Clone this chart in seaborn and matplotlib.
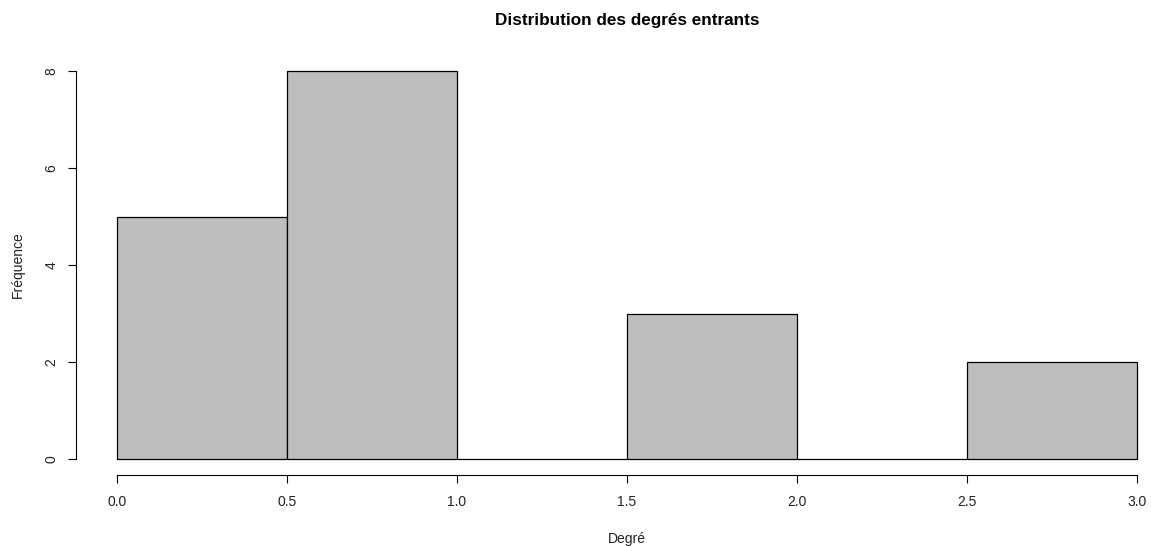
import numpy as np
import pandas as pd
import matplotlib
matplotlib.use("Agg")
import matplotlib.pyplot as plt
import seaborn as sns

# In-degree of each node, grouped by value
degree_values = [0, 1, 2, 3]
degree_counts = [5, 8, 3, 2]
bin_edges = [0.0, 0.5, 1.0, 1.5, 2.0, 2.5, 3.0]
x_ticks = [0.0, 0.5, 1.0, 1.5, 2.0, 2.5, 3.0]
y_ticks = [0, 2, 4, 6, 8]

# R-style right-closed bins (lowest bin closed): nudge integer degrees
# just inside their bin without dropping below the first edge
shifted = np.maximum(np.array(degree_values, dtype=float) - 1e-6, 0.0)
df = pd.DataFrame({"degre": shifted, "n": degree_counts})

sns.set_theme(style="white")
plt.rcParams["font.family"] = ["Liberation Sans", "DejaVu Sans"]

fig = plt.figure(figsize=(11.51, 5.47), dpi=100)
ax = fig.add_axes([0.066, 0.1325, 0.957, 0.766])

sns.histplot(data=df, x="degre", weights="n", bins=bin_edges, ax=ax,
             color="#bebebe", alpha=1.0, edgecolor="black", linewidth=0.9,
             stat="count")

ax.set_xlim(-0.12, 3.12)
ax.set_ylim(-0.32, 8.32)

for s in ["top", "right"]:
    ax.spines[s].set_visible(False)
ax.spines["left"].set_bounds(0, 8)
ax.spines["bottom"].set_bounds(0, 3)
for s in ["left", "bottom"]:
    ax.spines[s].set_color("black")
    ax.spines[s].set_linewidth(0.8)

ax.set_xticks(x_ticks)
ax.set_xticklabels([f"{v:.1f}" for v in x_ticks])
ax.set_yticks(y_ticks)
ax.set_yticklabels([str(v) for v in y_ticks], rotation=90, va="center")
ax.tick_params(axis="both", which="both", direction="out", length=5.5,
               width=0.8, color="black", labelsize=10, labelcolor="#222222",
               left=True, bottom=True)
ax.tick_params(axis="x", pad=9)
ax.tick_params(axis="y", pad=7)

ax.set_xlabel("Degré", fontsize=10, color="#222222", labelpad=17)
ax.set_ylabel("Fréquence", fontsize=10, color="#222222", labelpad=14)
fig.text(0.545, 0.963, "Distribution des degrés entrants", ha="center",
         va="center", fontsize=12.3, fontweight="bold", color="black")

fig.savefig("out.png", dpi=100)
